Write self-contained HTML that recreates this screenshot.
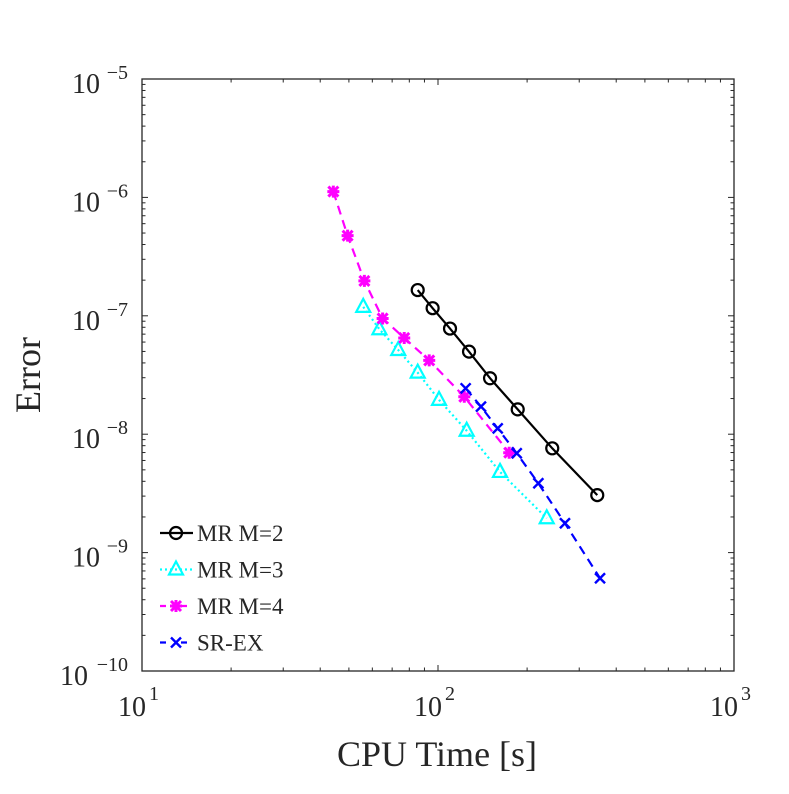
<!DOCTYPE html>
<html><head><meta charset="utf-8"><style>
body{margin:0;background:#fff}
text{font-family:"Liberation Serif",serif;fill:#262626}
</style></head><body>
<svg width="789" height="789" xmlns="http://www.w3.org/2000/svg">
<rect width="789" height="789" fill="#fff"/>
<g id="axes"></g><g id="series"></g><g id="legend"></g>
</svg>
<script>
const xTickExps=[1,2,3];
const yTickExps=[-5,-6,-7,-8,-9,-10];
const seriesNames=["MR M=2","MR M=3","MR M=4","SR-EX"];
const m2X=[85.4,95.9,109.8,127.3,149.9,185.9,243.2,345.2];
const m2Y=[1.65e-7,1.16e-7,7.8e-8,4.98e-8,2.97e-8,1.62e-8,7.6e-9,3.06e-9];
const m3X=[55.9,63.4,73.4,85.4,100.8,125,162,233];
const m3Y=[1.19e-7,7.7e-8,5.14e-8,3.31e-8,1.95e-8,1.07e-8,4.8e-9,1.95e-9];
const m4X=[44.3,49.5,56.4,65,76.9,93.4,122.7,174];
const m4Y=[1.12e-6,4.75e-7,1.97e-7,9.5e-8,6.5e-8,4.2e-8,2.07e-8,6.98e-9];
const srX=[124,139.7,159.1,184.5,218.3,268.5,352.7];
const srY=[2.44e-8,1.71e-8,1.12e-8,6.9e-9,3.85e-9,1.77e-9,6.07e-10];

const L=142,R=734,T=79,B=671;
const xs=v=>L+(Math.log10(v)-1)/2*(R-L);
const ys=v=>T+(-5-Math.log10(v))/5*(B-T);
const NS="http://www.w3.org/2000/svg";
function mk(tag,attrs,parent){const e=document.createElementNS(NS,tag);for(const k in attrs)e.setAttribute(k,attrs[k]);parent.appendChild(e);return e;}
const ax=document.getElementById('axes');
const box=mk('rect',{x:L,y:T,width:R-L,height:B-T,fill:'none',stroke:'#262626','stroke-width':1.3},ax);


for(let d=1;d<3;d++)for(let k=1;k<10;k++){const x=xs(k*Math.pow(10,d));const len=k===1?6:3.5;
 mk('line',{x1:x,y1:B,x2:x,y2:B-len,stroke:'#262626'},ax);mk('line',{x1:x,y1:T,x2:x,y2:T+len,stroke:'#262626'},ax);}
for(let d=-10;d<-5;d++)for(let k=1;k<10;k++){const y=ys(k*Math.pow(10,d));const len=k===1?6:3.5;
 mk('line',{x1:L,y1:y,x2:L+len,y2:y,stroke:'#262626'},ax);mk('line',{x1:R,y1:y,x2:R-len,y2:y,stroke:'#262626'},ax);}
xTickExps.forEach(e=>{const x=xs(Math.pow(10,e));
 const t=mk('text',{x:x-24,y:716,'font-size':28},ax);t.textContent='10';
 
 
 const s=mk('text',{x:x+7,y:700,'font-size':20},ax);s.textContent=String(e);});
yTickExps.forEach(e=>{const y=ys(Math.pow(10,e));
 const s=mk('text',{x:128,y:y,'font-size':20,'text-anchor':'end'},ax);s.textContent=String(e).replace('-','\u2212');
 const len=String(e).length;
 const t=mk('text',{x:128-12*len-4,y:y+14,'font-size':28,'text-anchor':'end'},ax);t.textContent='10';
 
 });
const xl=mk('text',{x:437,y:766,'font-size':36,'text-anchor':'middle'},ax);xl.textContent='CPU Time [s]';


const yl=mk('text',{x:0,y:0,'font-size':36,'text-anchor':'middle',transform:'translate(40,375) rotate(-90)'},ax);yl.textContent='Error';



function marker(type,x,y,c,g){
 if(type==='o')mk('circle',{cx:x,cy:y,r:6,fill:'none',stroke:c,'stroke-width':2.2},g);
 else if(type==='^')mk('path',{d:`M${x},${y-8}L${x+7},${y+5}L${x-7},${y+5}Z`,fill:'none',stroke:c,'stroke-width':2.2},g);
 else if(type==='*'){mk('path',{d:`M${x-6},${y}H${x+6}M${x},${y-6}V${y+6}M${x-5},${y-5}L${x+5},${y+5}M${x-5},${y+5}L${x+5},${y-5}`,stroke:c,'stroke-width':3},g);}
 else mk('path',{d:`M${x-5},${y-5}L${x+5},${y+5}M${x-5},${y+5}L${x+5},${y-5}`,stroke:c,'stroke-width':2.4},g);
}
const cfg=[[m2X,m2Y,'#000','','o'],[m3X,m3Y,'#00ffff','2 3','^'],[m4X,m4Y,'#ff00ff','9 6','*'],[srX,srY,'#0000ff','9 6','x']];
const sg=document.getElementById('series');
cfg.forEach((c,i)=>{const g=mk('g',{},sg);
 
 
 const pts=c[0].map((v,j)=>xs(v)+','+ys(c[1][j])).join(' ');
 mk('polyline',{points:pts,fill:'none',stroke:c[2],'stroke-width':2.2,'stroke-dasharray':c[3]},g);
 c[0].forEach((v,j)=>marker(c[4],xs(v),ys(c[1][j]),c[2],g));});
const lg=document.getElementById('legend');


cfg.forEach((c,i)=>{const y=533+i*36.5;const g=mk('g',{},lg);
 
 
 mk('line',{x1:160,y1:y,x2:193,y2:y,stroke:c[2],'stroke-width':2.2,'stroke-dasharray':c[3]?(c[3]==='2 3'?'2 3':'6 15'):''},g);
 marker(c[4],176,y,c[2],g);
 const t=mk('text',{x:197,y:y+8,'font-size':23,fill:'#000'},g);t.textContent=seriesNames[i];});
</script>
</body></html>
